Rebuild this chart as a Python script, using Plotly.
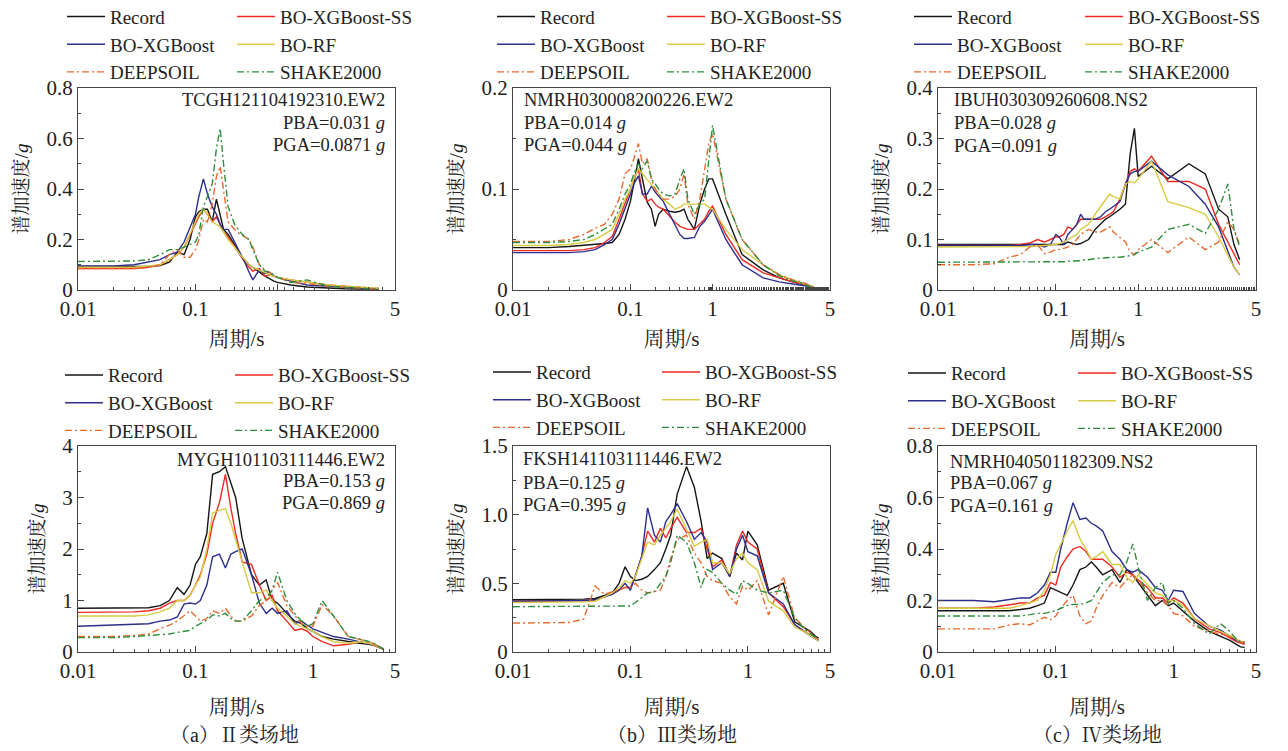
import numpy as np
import plotly.graph_objects as go

# ---------------- data ----------------
PERIOD = [0.01, 0.02, 0.03, 0.04, 0.05, 0.06,
          0.07, 0.08, 0.09, 0.10, 0.11, 0.125,
          0.14, 0.16, 0.18, 0.20, 0.22, 0.25,
          0.30, 0.35, 0.40, 0.45, 0.50, 0.60,
          0.70, 0.80, 0.90, 1.0, 1.2, 1.5,
          2.0, 2.5, 3.0, 3.4, 3.7, 4.0]

SERIES = ["Record", "BO-XGBoost-SS", "BO-XGBoost", "BO-RF", "DEEPSOIL", "SHAKE2000"]
X_TICKS = [0.01, 0.1, 1, 5]
X_TICK_TEXT = ["0.01", "0.1", "1", "5"]

# (a) top: TCGH121104192310.EW2
A1_RECORD = [.093, .093, .093, .094, .097, .11, .15, .14, .20, .29, .31, .32, .32, .27, .36, .30, .24, .22,
             .18, .14, .12, .10, .09, .07, .055, .045, .035, .03, .02, .012, .007, .005, .004, .004, .004, .004]
A1_XGB_SS = [.085, .085, .085, .09, .10, .12, .14, .17, .22, .26, .29, .32, .30, .27, .29, .26, .23, .21,
             .17, .14, .11, .09, .075, .085, .055, .06, .055, .05, .04, .03, .02, .015, .01, .008, .007, .006]
A1_XGB = [.095, .095, .10, .11, .12, .14, .15, .19, .25, .30, .37, .44, .38, .33, .30, .26, .24, .24,
          .19, .15, .11, .07, .04, .08, .065, .07, .055, .05, .035, .02, .015, .01, .008, .007, .006, .006]
A1_RF = [.09, .09, .09, .095, .10, .12, .14, .17, .22, .27, .30, .32, .30, .27, .26, .25, .23, .20,
         .17, .14, .12, .10, .09, .08, .07, .06, .055, .05, .04, .03, .02, .015, .012, .01, .008, .007]
A1_DEEP = [.085, .085, .085, .09, .10, .14, .16, .13, .13, .16, .20, .28, .27, .34, .45, .49, .40, .27,
           .24, .22, .21, .20, .17, .10, .08, .07, .06, .05, .03, .025, .015, .01, .007, .006, .005, .005]
A1_SHAKE = [.113, .113, .115, .12, .14, .16, .16, .17, .18, .19, .22, .33, .37, .42, .56, .64, .50, .33,
            .26, .23, .21, .20, .16, .10, .075, .07, .06, .05, .03, .04, .015, .01, .008, .006, .005, .005]

# (b) top: NMRH030008200226.EW2
A2_RECORD = [.042, .042, .043, .044, .045, .046, .047, .055, .07, .088, .105, .13, .11, .087, .08, .063, .075, .08,
             .078, .077, .078, .08, .07, .06, .085, .10, .11, .11, .075, .035, .02, .012, .008, .006, .004, .003]
A2_XGB_SS = [.039, .039, .039, .04, .042, .047, .053, .07, .085, .10, .11, .12, .095, .088, .09, .085, .082, .08,
             .073, .067, .063, .061, .06, .06, .065, .07, .078, .083, .055, .03, .017, .012, .008, .006, .004, .003]
A2_XGB = [.037, .037, .037, .038, .04, .045, .05, .065, .08, .095, .105, .113, .095, .095, .103, .097, .093, .088,
          .075, .065, .055, .051, .051, .052, .063, .068, .075, .08, .05, .025, .012, .008, .006, .005, .004, .003]
A2_RF = [.044, .044, .045, .047, .05, .055, .06, .075, .09, .10, .11, .12, .115, .11, .105, .10, .095, .09,
         .085, .08, .082, .085, .085, .085, .085, .085, .082, .08, .06, .04, .025, .015, .01, .007, .005, .003]
A2_DEEP = [.048, .048, .05, .055, .061, .065, .075, .09, .115, .12, .13, .145, .125, .13, .11, .10, .095, .09,
           .09, .093, .10, .115, .085, .07, .09, .12, .145, .155, .09, .05, .025, .015, .01, .008, .005, .003]
A2_SHAKE = [.047, .047, .048, .05, .055, .06, .065, .08, .095, .105, .115, .125, .12, .128, .11, .105, .10, .095,
            .093, .095, .11, .12, .09, .075, .085, .09, .13, .163, .09, .05, .025, .014, .009, .007, .004, .003]

# (c) top: IBUH030309260608.NS2
A3_RECORD = [.09, .09, .09, .09, .09, .09, .09, .09, .09, .09, .09, .09, .095, .093, .09, .092, .095, .10,
             .12, .13, .14, .145, .15, .16, .17, .27, .32, .225, .245, .22, .25, .23, .16, .145, .09, .06]
A3_XGB_SS = [.088, .088, .088, .088, .09, .093, .10, .095, .10, .105, .105, .11, .125, .12, .13, .14, .14, .14,
             .14, .14, .145, .15, .155, .18, .21, .235, .24, .235, .265, .215, .215, .20, .13, .095, .07, .05]
A3_XGB = [.088, .088, .088, .088, .088, .09, .09, .085, .09, .11, .105, .09, .11, .12, .13, .15, .14, .14,
          .14, .145, .155, .16, .165, .175, .21, .23, .235, .235, .255, .228, .205, .17, .125, .075, .045, .03]
A3_RF = [.085, .085, .085, .085, .085, .086, .087, .088, .09, .09, .092, .095, .10, .105, .11, .12, .125, .13,
         .15, .165, .18, .19, .185, .18, .21, .215, .212, .22, .255, .175, .163, .15, .105, .07, .045, .03]
A3_DEEP = [.05, .05, .052, .065, .07, .085, .09, .072, .075, .08, .08, .082, .085, .09, .10, .11, .115, .12,
           .115, .115, .12, .125, .115, .105, .095, .075, .07, .08, .10, .074, .105, .08, .095, .135, .12, .09]
A3_SHAKE = [.055, .055, .055, .055, .055, .055, .055, .055, .055, .055, .056, .056, .057, .057, .058, .058, .06, .06,
            .062, .063, .064, .065, .065, .065, .066, .068, .07, .075, .085, .12, .13, .112, .16, .21, .12, .085]

# (a) bottom: MYGH101103111446.EW2
B1_RECORD = [.85, .85, .85, .86, .90, 1.0, 1.25, 1.12, 1.3, 1.7, 1.85, 2.3, 3.45, 3.5, 3.6, 3.3, 3.0, 2.2,
             1.5, 1.3, 1.4, 1.0, .95, .75, .6, .55, .45, .4, .3, .25, .2, .17, .15, .12, .08, .05]
B1_XGB_SS = [.77, .77, .78, .80, .85, .95, 1.0, 1.0, 1.1, 1.3, 1.5, 1.9, 2.5, 2.9, 3.45, 2.8, 2.3, 1.75,
             1.7, 1.3, 1.0, 1.1, .8, .6, .42, .45, .4, .3, .2, .12, .15, .2, .17, .12, .08, .05]
B1_XGB = [.5, .52, .53, .55, .6, .62, .68, .93, .95, .93, 1.0, 1.3, 1.85, 1.9, 1.63, 1.9, 1.95, 2.0,
          1.5, .95, .75, .85, .75, .8, .55, .6, .52, .45, .38, .3, .25, .2, .17, .13, .1, .06]
B1_RF = [.7, .7, .7, .72, .78, .85, 1.0, 1.0, 1.1, 1.3, 1.45, 2.0, 2.7, 2.75, 2.78, 2.5, 2.2, 1.75,
         1.15, 1.15, 1.2, 1.0, .85, .7, .55, .5, .45, .4, .3, .2, .17, .2, .17, .13, .08, .05]
B1_DEEP = [.3, .3, .32, .35, .45, .52, .6, .7, .8, .7, .6, .65, .8, .75, .85, .7, .6, .6,
           .7, .9, 1.0, 1.2, 1.35, .9, .7, .55, .5, .5, .92, .7, .3, .25, .2, .15, .1, .05]
B1_SHAKE = [.28, .28, .3, .32, .33, .35, .38, .4, .42, .5, .55, .62, .72, .7, .75, .65, .6, .6,
            .8, 1.0, 1.05, 1.2, 1.55, 1.0, .75, .6, .5, .55, 1.0, .7, .3, .25, .2, .15, .1, .05]

# (b) bottom: FKSH141103111446.EW2
B2_RECORD = [.38, .38, .38, .385, .39, .41, .43, .5, .62, .55, .52, .53, .55, .6, .65, .75, .85, 1.15,
             1.35, 1.2, .95, .68, .72, .68, .55, .72, .67, .88, .78, .45, .5, .22, .18, .15, .12, .1]
B2_XGB_SS = [.37, .37, .37, .375, .38, .4, .43, .45, .47, .47, .55, .7, .88, .8, .9, .83, .9, .98,
             .87, .87, .9, .75, .62, .67, .55, .78, .88, .8, .75, .43, .33, .2, .15, .12, .1, .09]
B2_XGB = [.37, .37, .37, .375, .38, .4, .42, .45, .5, .45, .55, .7, 1.05, .85, .8, .95, 1.0, 1.08,
          .95, .82, .87, .8, .6, .65, .55, .75, .85, .73, .7, .43, .35, .2, .15, .12, .1, .08]
B2_RF = [.36, .36, .36, .365, .37, .4, .43, .47, .52, .5, .55, .68, .8, .78, .85, .9, .95, 1.04,
         .9, .77, .8, .82, .65, .65, .57, .68, .72, .65, .6, .37, .3, .18, .15, .12, .1, .08]
B2_DEEP = [.21, .21, .215, .24, .48, .42, .44, .45, .47, .47, .5, .45, .43, .44, .45, .55, .68, .82,
           .85, .72, .65, .55, .52, .5, .4, .35, .48, .45, .52, .27, .55, .25, .18, .14, .11, .09]
B2_SHAKE = [.33, .33, .33, .33, .33, .33, .33, .335, .335, .335, .36, .4, .43, .44, .5, .55, .65, .85,
            .8, .65, .47, .6, .58, .5, .45, .42, .52, .5, .45, .43, .45, .25, .17, .13, .11, .1]

# (c) bottom: NMRH040501182309.NS2
B3_RECORD = [.16, .16, .16, .16, .165, .17, .18, .19, .25, .24, .23, .22, .26, .32, .33, .35, .33, .30,
             .32, .27, .32, .30, .27, .22, .18, .20, .18, .19, .16, .12, .08, .06, .045, .03, .02, .018]
B3_XGB_SS = [.17, .17, .175, .185, .19, .19, .21, .22, .27, .26, .33, .37, .40, .41, .39, .36, .36, .36,
             .33, .29, .31, .30, .28, .25, .21, .21, .19, .21, .19, .13, .09, .075, .055, .04, .035, .03]
B3_XGB = [.2, .2, .195, .205, .21, .21, .23, .26, .31, .31, .4, .5, .58, .515, .52, .5, .49, .47,
          .39, .36, .32, .31, .32, .29, .25, .24, .2, .24, .235, .15, .1, .085, .06, .045, .04, .035]
B3_RF = [.17, .17, .17, .17, .18, .19, .2, .24, .3, .38, .42, .47, .51, .44, .4, .36, .37, .39,
         .34, .34, .29, .27, .3, .26, .23, .22, .2, .2, .18, .13, .1, .08, .065, .05, .04, .04]
B3_DEEP = [.09, .09, .09, .105, .11, .105, .12, .135, .125, .14, .17, .2, .22, .14, .11, .12, .17, .22,
           .27, .25, .28, .3, .28, .23, .2, .2, .18, .15, .14, .1, .08, .07, .06, .05, .04, .035]
B3_SHAKE = [.14, .14, .14, .14, .14, .145, .15, .15, .155, .16, .17, .18, .185, .185, .19, .2, .23, .27,
            .3, .3, .35, .42, .33, .2, .25, .27, .19, .2, .17, .11, .07, .11, .08, .05, .04, .04]

PANEL_RECORDS = ["TCGH121104192310.EW2", "NMRH030008200226.EW2", "IBUH030309260608.NS2",
                 "MYGH101103111446.EW2", "FKSH141103111446.EW2", "NMRH040501182309.NS2"]
PANEL_PBA = ["0.031", "0.014", "0.028", "0.153", "0.125", "0.067"]
PANEL_PGA = ["0.0871", "0.044", "0.091", "0.869", "0.395", "0.161"]
CAPTIONS = ["（a）Ⅱ类场地", "（b）Ⅲ类场地", "（c）Ⅳ类场地"]

PANEL_VALUES = [
    [A1_RECORD, A1_XGB_SS, A1_XGB, A1_RF, A1_DEEP, A1_SHAKE],
    [A2_RECORD, A2_XGB_SS, A2_XGB, A2_RF, A2_DEEP, A2_SHAKE],
    [A3_RECORD, A3_XGB_SS, A3_XGB, A3_RF, A3_DEEP, A3_SHAKE],
    [B1_RECORD, B1_XGB_SS, B1_XGB, B1_RF, B1_DEEP, B1_SHAKE],
    [B2_RECORD, B2_XGB_SS, B2_XGB, B2_RF, B2_DEEP, B2_SHAKE],
    [B3_RECORD, B3_XGB_SS, B3_XGB, B3_RF, B3_DEEP, B3_SHAKE],
]

# ---------------- styling ----------------
W, H = 1288, 751
OFF = 8  # page body margin: figure's top-left sits at (8, 8) in the browser window
FONT = "Liberation Serif, Times New Roman, Noto Serif CJK SC, Noto Sans CJK SC, serif"
TXT = "#222222"
AXC = "#444444"
COLORS = ["#151515", "#ee2a22", "#2c2f8c", "#d8cb44", "#e8692c", "#2f8e3c"]
DASHES = ["solid", "solid", "solid", "solid", "7px,3px,2px,3px", "7px,3px,2px,3px"]
LEG_FS = 19
LEG_ITEMW = 38

COLS = [(78, 395), (513, 830), (938, 1256)]
ROWS = [(88, 290), (446, 652)]

# top-row period axis is a piecewise-logarithmic scale (tick "1" sits 0.7 decade after 0.1)
TOP_KNOT_LOG = [-2.0, -1.0, 0.0, np.log10(5.0)]
TOP_KNOT_POS = [-2.0, -1.0, np.log10(0.5), np.log10(5.0)]


def top_scale(t):
    return np.interp(np.log10(np.asarray(t, dtype=float)), TOP_KNOT_LOG, TOP_KNOT_POS)


LOG_MINOR = [m * d for d in (0.01, 0.1) for m in range(2, 10)]
MINOR_TOP = [
    LOG_MINOR + [1.1, 1.25, 1.45, 1.65, 2.0, 2.75, 3.5, 4.2],
    LOG_MINOR + [0.92, 0.95, 0.97] + [round(1 + 0.05 * k, 2) for k in range(1, 80)],
    LOG_MINOR + [round(1 + 0.1 * k, 2) for k in range(1, 40)],
]
MINOR_BOTTOM = LOG_MINOR + [1.5, 2, 2.5, 3, 3.5, 4, 4.5]

Y_RANGES = [0.8, 0.2, 0.4, 4, 1.5, 0.8]
Y_DTICK = [0.2, 0.1, 0.1, 1, 0.5, 0.2]
Y_MINOR = [0.1, 0.05, 0.05, 0.5, 0.25, 0.1]

# legend placement: (line start x col1, col2, first-row centre y)
LEG_POS = [(67, 237, 16.5), (497, 667, 16.5), (914, 1085, 16.5),
           (65, 235, 375), (493, 662, 372), (908, 1078, 373)]
# station text: (x, anchor, y rows)
ANN_POS = [(387, "right", (100, 123, 145)), (522, "left", (100, 123, 145)), (952, "left", (100, 123, 146)),
           (387, "right", (460, 481, 503)), (521, "left", (459, 483, 505)), (948, "left", (462, 483, 506))]


def fx(px):
    return (px - OFF) / W


def fy(py):
    return 1 - (py - OFF) / H


fig = go.Figure()
legend_cfg = {}
annotations = []
axes_cfg = {}
row_h = 1.3 * LEG_FS + 3

for i in range(6):
    k = i + 1
    top = i < 3
    col, row = i % 3, i // 3
    xa = "x" if k == 1 else f"x{k}"
    ya = "y" if k == 1 else f"y{k}"
    leg1 = "legend" if 2 * i + 1 == 1 else f"legend{2 * i + 1}"
    leg2 = f"legend{2 * i + 2}"
    xvals = top_scale(PERIOD) if top else PERIOD
    for s, (name, vals) in enumerate(zip(SERIES, PANEL_VALUES[i])):
        fig.add_trace(go.Scatter(
            x=xvals, y=vals, mode="lines", name=name,
            line=dict(color=COLORS[s], width=1.4, dash=DASHES[s]),
            xaxis=xa, yaxis=ya, legend=leg1 if s in (0, 2, 4) else leg2,
            hoverinfo="skip"))

    # legends
    lx1, lx2, lyc = LEG_POS[i]
    for lname, lx in ((leg1, lx1), (leg2, lx2)):
        legend_cfg[lname] = dict(
            x=fx(lx - 5), y=fy(lyc - 5 - row_h / 2), xanchor="left", yanchor="top",
            orientation="v", bgcolor="rgba(0,0,0,0)", borderwidth=0,
            font=dict(family=FONT, size=LEG_FS, color=TXT), itemwidth=LEG_ITEMW,
            tracegroupgap=0, traceorder="normal")

    # axes
    x0, x1 = COLS[col]
    y0, y1 = ROWS[row]
    common = dict(showline=True, linecolor=AXC, linewidth=1.2, mirror=True, showgrid=False,
                  zeroline=False, ticks="inside", ticklen=6, tickwidth=1.1, tickcolor=AXC,
                  tickfont=dict(family=FONT, size=21, color=TXT), automargin=False)
    if top:
        xaxis = dict(type="linear", range=[-2, np.log10(5)], tickmode="array",
                     tickvals=list(top_scale(X_TICKS)), ticktext=X_TICK_TEXT,
                     minor=dict(tickmode="array", tickvals=list(top_scale(MINOR_TOP[i])),
                                ticks="inside", ticklen=3, tickcolor=AXC, tickwidth=1))
    else:
        xaxis = dict(type="log", range=[-2, np.log10(5)], tickmode="array",
                     tickvals=X_TICKS, ticktext=X_TICK_TEXT,
                     minor=dict(tickmode="array", tickvals=MINOR_BOTTOM,
                                ticks="inside", ticklen=3, tickcolor=AXC, tickwidth=1))
    xaxis.update(common)
    xaxis.update(domain=[fx(x0), fx(x1)], anchor=ya,
                 title=dict(text="周期/s", font=dict(family=FONT, size=21, color=TXT),
                            standoff=11 if top else 17))
    yaxis = dict(range=[0, Y_RANGES[i]], dtick=Y_DTICK[i], tick0=0,
                 minor=dict(dtick=Y_MINOR[i], tick0=0, ticks="inside", ticklen=3,
                            tickcolor=AXC, tickwidth=1))
    if i == 4:
        yaxis.update(tickmode="array", tickvals=[0, 0.5, 1.0, 1.5], ticktext=["0", "0.5", "1.0", "1.5"])
    yaxis.update(common)
    yaxis.update(domain=[fy(y1), fy(y0)], anchor=xa,
                 title=dict(text="谱加速度/<i>g</i>", font=dict(family=FONT, size=19, color=TXT),
                            standoff=12))
    axes_cfg["xaxis" if k == 1 else f"xaxis{k}"] = xaxis
    axes_cfg["yaxis" if k == 1 else f"yaxis{k}"] = yaxis

    # station / PBA / PGA text
    ax_, anc, ys = ANN_POS[i]
    lines = [PANEL_RECORDS[i], f"PBA={PANEL_PBA[i]} <i>g</i>", f"PGA={PANEL_PGA[i]} <i>g</i>"]
    for txt, yy in zip(lines, ys):
        annotations.append(dict(text=txt, x=fx(ax_), y=fy(yy), xref="paper", yref="paper",
                                xanchor=anc, yanchor="middle", showarrow=False,
                                font=dict(family=FONT, size=18.5, color=TXT)))

for c, cap in enumerate(CAPTIONS):
    cx = [234, 672, 1097][c]
    annotations.append(dict(text=cap, x=fx(cx), y=fy(735), xref="paper", yref="paper",
                            xanchor="center", yanchor="middle", showarrow=False,
                            font=dict(family=FONT, size=20, color=TXT)))

fig.update_layout(
    width=W, height=H, autosize=False,
    margin=dict(l=0, r=0, t=0, b=0, autoexpand=False),
    paper_bgcolor="white", plot_bgcolor="white",
    showlegend=True,
    annotations=annotations,
    **legend_cfg, **axes_cfg)

fig.write_html("out.html")
